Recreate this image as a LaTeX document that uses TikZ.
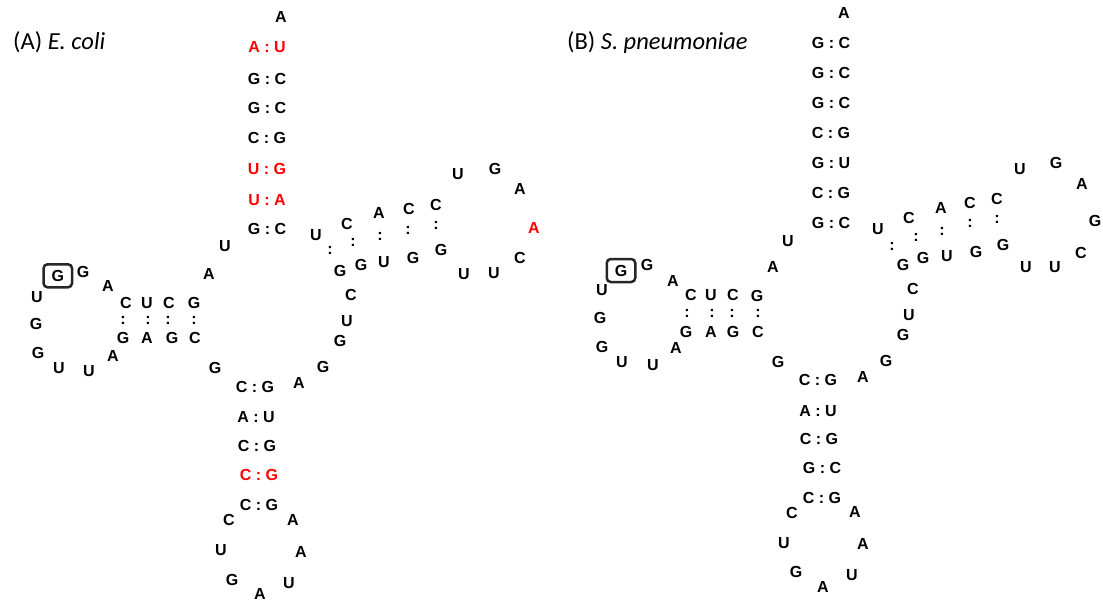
\documentclass[tikz,border=0pt]{standalone}
\usepackage{fontspec}
\setmainfont{Carlito}
\setsansfont{Liberation Sans}
\usetikzlibrary{positioning}

\tikzset{
  nt/.style={font=\sffamily\bfseries\fontsize{16}{16}\selectfont, inner sep=0pt, text height=11.5pt, text depth=0pt},
  ntred/.style={nt, text=red},
  bond/.style={font=\sffamily\bfseries\fontsize{16}{16}\selectfont, inner sep=0pt},
  boxed/.style={nt, draw=black!85, line width=2.5pt, rounded corners=4pt, minimum width=28.5pt, minimum height=23pt},
  panel/.style={font=\fontsize{24.5}{28}\selectfont, anchor=west, inner sep=0pt}
}

\begin{document}
\begin{tikzpicture}[x=1pt,y=-1pt]
  \useasboundingbox (0,0) rectangle (1103,603);
  % (A) E. coli
  \node[panel] (titleA) at (13,42) {(A) \textit{E. coli}};
  \foreach \x/\y/\t [count=\i] in {281/17/A, 225/246/U, 209/274/A, 83/272/G, 108/286/A,
      37/297/U, 36/324/G, 38/353/G, 59/368/U, 89/371/U, 113/356/A,
      126/303/C, 147/303/U, 169/303/C, 194/303/G, 123/338/G, 147/338/A, 172/338/G, 195/338/C,
      215/368/G, 299/383/A, 323/367/G, 340/341/G, 347/321/U, 351/295/C, 340/271/G,
      361/265/G, 384/262/U, 413/258/G, 441/250/G, 316/235/U, 347/224/C, 379/213/A,
      409/209/C, 436/205/C, 458/174/U, 495/169/G, 520/189/A, 520/258/C, 494/273/U, 464/274/U,
      229/520/C, 293/520/A, 221/550/U, 301/552/A, 232/580/G, 260/594/A, 289/583/U}
    \node[nt] (ec\i) at (\x,\y) {\t};
  \node[ntred] (ecred) at (534,228) {A};
  \node[boxed] (ecbox) at (57.8,275.8) {G};
  \foreach \x/\y/\t [count=\i] in {267/79/G : C, 267/108/G : C, 267/138/C : G, 267/229/G : C,
      255/387/C : G, 256/417/A : U, 257/446/C : G, 259/505/C : G}
    \node[nt] (ecp\i) at (\x,\y) {\t};
  \foreach \x/\y/\t [count=\i] in {267/47/A : U, 267/169/U : G, 267/200/U : A, 259/475/C : G}
    \node[ntred] (ecr\i) at (\x,\y) {\t};
  \foreach \x/\y [count=\i] in {123/320, 148/320, 168/320, 194/320, 330/250, 353/242,
      380/236, 408/230, 436/225}
    \node[bond] (ecb\i) at (\x,\y) {:};

  % (B) S. pneumoniae
  \node[panel] (titleB) at (567,43) {(B) \textit{S. pneumoniae}};
  \foreach \x/\y/\t [count=\i] in {844/13/A, 788/241/U, 773/267/A, 647/265/G, 673/281/A,
      602/290/U, 600/318/G, 602/347/G, 622/362/U, 653/365/U, 676/348/A,
      691/295/C, 711/295/U, 733/295/C, 757/296/G, 686/332/G, 711/332/A, 733/332/G, 758/332/C,
      778/362/G, 863/377/A, 886/361/G, 903/335/G, 909/315/U, 913/289/C, 903/265/G,
      923/258/G, 947/256/U, 976/252/G, 1003/245/G, 878/229/U, 909/218/C, 941/208/A,
      970/203/C, 997/199/C, 1020/169/U, 1056/163/G, 1082/184/A, 1095/221/G, 1081/253/C,
      1055/267/U, 1026/267/U,
      792/513/C, 855/512/A, 784/543/U, 863/544/A, 796/572/G, 823/587/A, 852/575/U}
    \node[nt] (sp\i) at (\x,\y) {\t};
  \node[boxed] (spbox) at (621,270.5) {G};
  \foreach \x/\y/\t [count=\i] in {831/43/G : C, 831/73/G : C, 831/103/G : C, 831/133/C : G,
      831/163/G : U, 831/193/C : G, 831/223/G : C, 818/380/C : G, 818/411/A : U,
      819/439/C : G, 822/468/G : C, 822/498/C : G}
    \node[nt] (spp\i) at (\x,\y) {\t};
  \foreach \x/\y [count=\i] in {687/313, 712/313, 732/313, 758/313, 892/246, 916/237,
      942/231, 970/223, 997/219}
    \node[bond] (spb\i) at (\x,\y) {:};
\end{tikzpicture}
\end{document}
